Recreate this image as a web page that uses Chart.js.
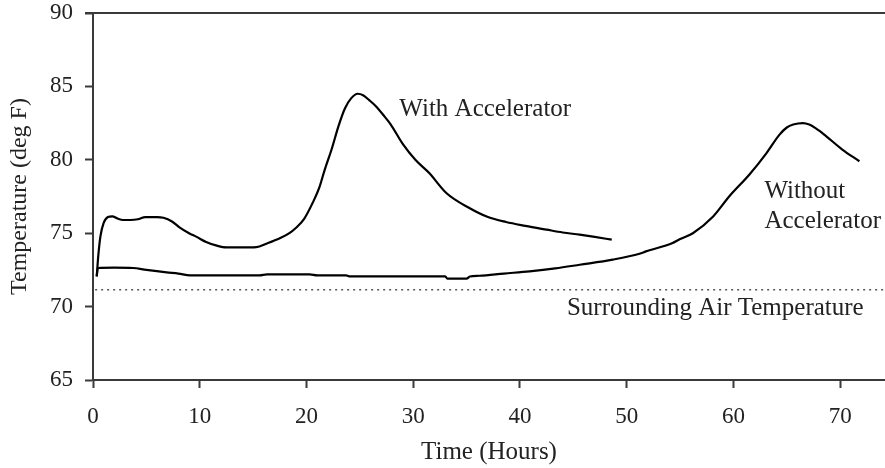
<!DOCTYPE html>
<html>
<head>
<meta charset="utf-8">
<script src="https://cdn.jsdelivr.net/npm/chart.js@4.4.1/dist/chart.umd.min.js"></script>
<style>
  html, body { margin: 0; padding: 0; background: #fff; }
  canvas { display: block; }
</style>
</head>
<body>
<canvas id="chart" width="885" height="468"></canvas>
<script>
// hours / deg F
const withHours = [0.35, 0.5, 0.7, 1.0, 1.4, 1.8, 2.3, 2.8, 3.5, 4.2, 4.9, 6.0, 6.6, 7.4, 8.1, 9.0, 9.7, 10.6, 11.6, 12.5, 14.0, 15.3, 16.3, 17.5, 18.4, 19.0, 19.8, 20.6, 21.2, 21.7, 22.35, 23.0, 23.6, 24.2, 24.8, 25.3, 25.9, 26.5, 27.2, 27.9, 29.0, 30.2, 31.5, 33.1, 35.3, 37.0, 38.7, 40.5, 42.5, 44.0, 45.6, 47.0, 48.6];
const withTemps = [72.06, 73.5, 74.8, 75.7, 76.1, 76.15, 76.0, 75.9, 75.9, 75.95, 76.1, 76.1, 76.05, 75.8, 75.4, 75.0, 74.75, 74.4, 74.15, 74.03, 74.03, 74.05, 74.3, 74.65, 75.0, 75.35, 76.0, 77.1, 78.1, 79.3, 80.7, 82.3, 83.5, 84.2, 84.5, 84.4, 84.05, 83.65, 83.05, 82.4, 81.1, 80.0, 79.1, 77.74, 76.7, 76.1, 75.76, 75.5, 75.24, 75.05, 74.9, 74.75, 74.56];

const withoutHours = [0.35, 0.45, 2.0, 3.75, 5.0, 6.9, 8.0, 9.1, 12.0, 15.6, 16.3, 20.3, 21.0, 23.7, 24.0, 33.0, 33.2, 35.0, 35.3, 36.2, 38.5, 40.9, 43.3, 45.6, 48.7, 51.2, 51.8, 54.3, 55.0, 56.2, 58.1, 59.6, 61.5, 63.1, 64.3, 65.0, 65.6, 66.5, 67.1, 68.0, 68.7, 70.2, 71.8];
const withoutTemps = [72.06, 72.63, 72.65, 72.63, 72.5, 72.33, 72.25, 72.13, 72.13, 72.13, 72.2, 72.2, 72.13, 72.13, 72.06, 72.06, 71.9, 71.9, 72.05, 72.1, 72.25, 72.4, 72.6, 72.85, 73.2, 73.6, 73.76, 74.33, 74.6, 75.0, 76.14, 77.5, 79.0, 80.46, 81.7, 82.2, 82.4, 82.5, 82.4, 82.0, 81.6, 80.7, 79.9];

const airHours = [0.2, 74.2];
const airTemps = [71.15, 71.15];

// annotation texts, anchored in data units (hours, deg F)
const notes = [
  { text: 'With Accelerator', x: 28.7, y: 83.0 },
  { text: 'Without', x: 62.9, y: 77.4 },
  { text: 'Accelerator', x: 62.9, y: 75.35 },
  { text: 'Surrounding Air Temperature', x: 44.4, y: 69.4 }
];

const yTicks = [65, 70, 75, 80, 85, 90];
const xTicks = [0, 10, 20, 30, 40, 50, 60, 70];

const toPoints = (xs, ys) => xs.map((x, i) => ({ x: x, y: ys[i] }));

const FONT = '"Liberation Serif", "Times New Roman", serif';
const INK = '#222';
const AXIS = '#3a3a3a';

const notesPlugin = {
  id: 'notes',
  afterDraw(chart) {
    const ctx = chart.ctx;
    const xs = chart.scales.x;
    const ys = chart.scales.y;
    const area = chart.chartArea;
    ctx.save();
    // top frame line
    ctx.strokeStyle = AXIS;
    ctx.lineWidth = 2;
    ctx.beginPath();
    ctx.moveTo(area.left - 8, area.top);
    ctx.lineTo(area.right, area.top);
    ctx.stroke();

    ctx.fillStyle = INK;
    ctx.font = '25px ' + FONT;
    ctx.textAlign = 'left';
    ctx.textBaseline = 'alphabetic';
    notes.forEach(n => {
      ctx.fillText(n.text, xs.getPixelForValue(n.x), ys.getPixelForValue(n.y));
    });
    ctx.restore();
  }
};

new Chart(document.getElementById('chart').getContext('2d'), {
  type: 'line',
  data: {
    datasets: [
      {
        label: 'With Accelerator',
        data: toPoints(withHours, withTemps),
        borderColor: '#000',
        borderWidth: 2.2,
        pointRadius: 0,
        cubicInterpolationMode: 'monotone'
      },
      {
        label: 'Without Accelerator',
        data: toPoints(withoutHours, withoutTemps),
        borderColor: '#000',
        borderWidth: 2.2,
        pointRadius: 0,
        cubicInterpolationMode: 'monotone'
      },
      {
        label: 'Surrounding Air Temperature',
        data: toPoints(airHours, airTemps),
        borderColor: '#555',
        borderWidth: 1.5,
        borderDash: [2, 4],
        pointRadius: 0
      }
    ]
  },
  options: {
    responsive: false,
    animation: false,
    devicePixelRatio: 1,
    layout: { padding: { top: 13, right: 0, left: 0, bottom: 0 } },
    plugins: {
      legend: { display: false },
      tooltip: { enabled: false }
    },
    scales: {
      x: {
        type: 'linear',
        min: 0,
        max: 74.2,
        afterFit: (scale) => {
          scale.height = 88;
          scale.paddingLeft = 0;
          scale.paddingRight = 0;
        },
        afterBuildTicks: (scale) => { scale.ticks = xTicks.map(v => ({ value: v })); },
        ticks: {
          includeBounds: false,
          color: INK,
          font: { family: FONT, size: 23 },
          padding: 15,
          maxRotation: 0
        },
        grid: {
          drawOnChartArea: false,
          drawTicks: true,
          tickLength: 8,
          tickColor: AXIS,
          tickWidth: 2
        },
        border: { display: true, color: AXIS, width: 2 },
        title: {
          display: true,
          text: 'Time (Hours)',
          color: INK,
          font: { family: FONT, size: 25 },
          padding: { top: 0, bottom: 1 }
        }
      },
      y: {
        min: 65,
        max: 90,
        afterFit: (scale) => {
          scale.width = 93;
          scale.paddingTop = 0;
          scale.paddingBottom = 0;
        },
        afterBuildTicks: (scale) => { scale.ticks = yTicks.map(v => ({ value: v })); },
        ticks: {
          color: INK,
          font: { family: FONT, size: 23 },
          padding: 12
        },
        grid: {
          drawOnChartArea: false,
          drawTicks: true,
          tickLength: 8,
          tickColor: AXIS,
          tickWidth: 2
        },
        border: { display: true, color: AXIS, width: 2 },
        title: {
          display: true,
          text: 'Temperature (deg F)',
          color: INK,
          font: { family: FONT, size: 24 },
          padding: { top: 5, bottom: 0 }
        }
      }
    }
  },
  plugins: [notesPlugin]
});
</script>
</body>
</html>
